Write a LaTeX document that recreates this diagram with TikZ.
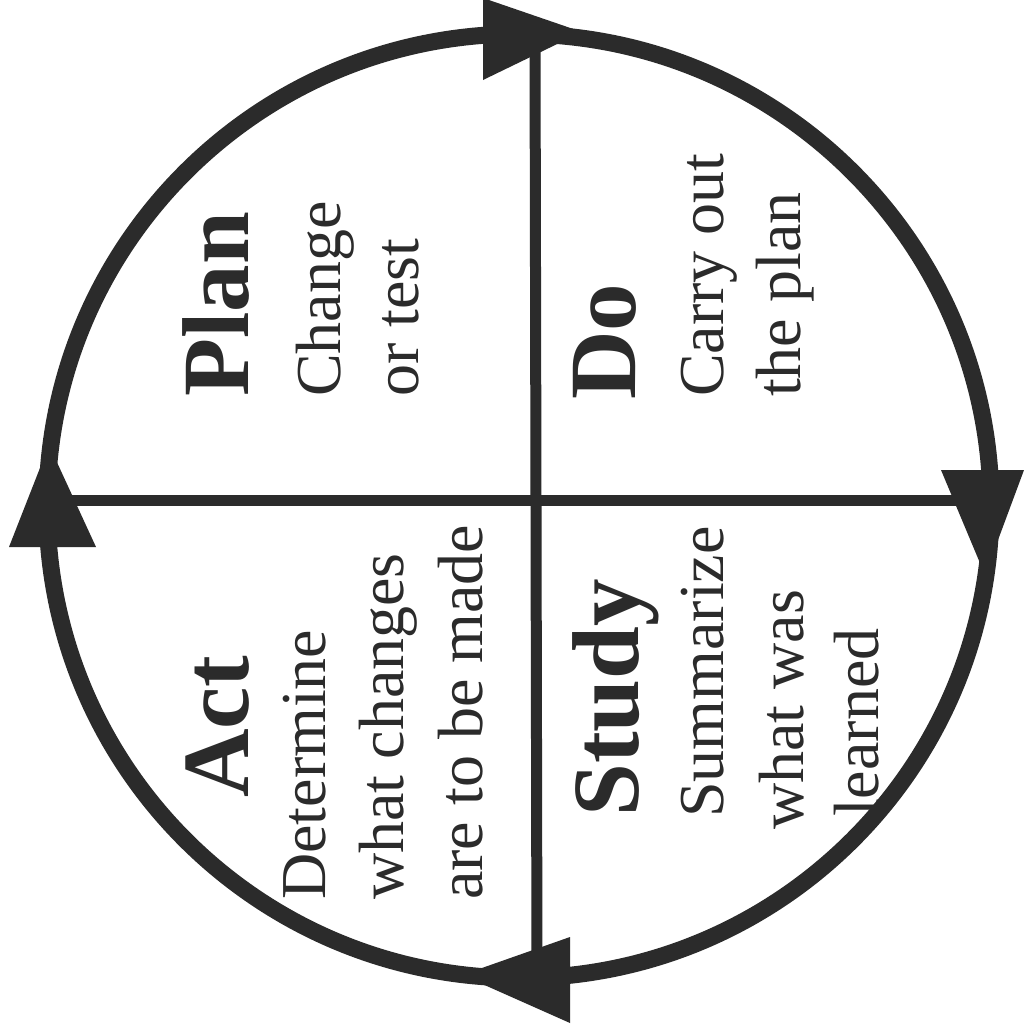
\documentclass[tikz,border=0pt]{standalone}
\usepackage{fontspec}
\setmainfont{Liberation Serif}
\definecolor{ink}{rgb}{0.17,0.17,0.17}
\newcommand\ttlfont{\fontsize{95}{95}\selectfont\bfseries}
\newcommand\txtfont{\fontsize{64}{64}\selectfont}
\begin{document}
\begin{tikzpicture}[x=1pt,y=-1pt,
  ttl/.style={rotate=90,anchor=base west,inner sep=0pt,font=\ttlfont,text=ink},
  txt/.style={rotate=90,anchor=base west,inner sep=0pt,font=\txtfont,text=ink},
  ring/.style={draw=ink,line width=17pt},
  axis/.style={draw=ink,line width=11pt},
  head/.style={fill=ink}]
\useasboundingbox (0,0) rectangle (1023,1033);
\fill[white] (0,0) rectangle (1023,1033);
% circle
\coordinate (c) at (519,506);
\draw[ring] (c) circle[radius=472];
% axes
\coordinate (vt) at (535,34);
\coordinate (vb) at (537,978);
\coordinate (hl) at (47,500);
\coordinate (hr) at (991,500);
\draw[axis] (vt) -- (vb);
\draw[axis] (hl) -- (hr);
% arrowheads
\coordinate (t1) at (483,-2);  \coordinate (t2) at (483,80);  \coordinate (tt) at (582,32);
\coordinate (r1) at (941,470); \coordinate (r2) at (1024,470); \coordinate (rt) at (985,575);
\coordinate (b1) at (570,937); \coordinate (b2) at (570,1023); \coordinate (bt) at (462,975);
\coordinate (l1) at (9,547);   \coordinate (l2) at (96,547);  \coordinate (lt) at (49,445);
\fill[head] (t1) -- (tt) -- (t2) -- cycle;
\fill[head] (r1) -- (rt) -- (r2) -- cycle;
\fill[head] (b1) -- (bt) -- (b2) -- cycle;
\fill[head] (l1) -- (lt) -- (l2) -- cycle;
% Plan
\node[ttl] (plan) at (248,397) {Plan};
\node[txt] (plan1) at (340,397) {Change};
\node[txt] (plan2) at (418,397) {or test};
% Act
\node[ttl] (act) at (248,798) {Act};
\node[txt] (act1) at (325,900) {Determine};
\node[txt] (act2) at (403,900) {what changes};
\node[txt] (act3) at (482,900) {are to be made};
% Do
\node[ttl] (do) at (635,400) {Do};
\node[txt] (do1) at (723,397) {Carry out};
\node[txt] (do2) at (800,397) {the plan};
% Study
\node[ttl] (study) at (638,817) {Study};
\node[txt] (study1) at (723,818) {Summarize};
\node[txt] (study2) at (803,830) {what was};
\node[txt] (study3) at (878,817) {learned};
\end{tikzpicture}
\end{document}
